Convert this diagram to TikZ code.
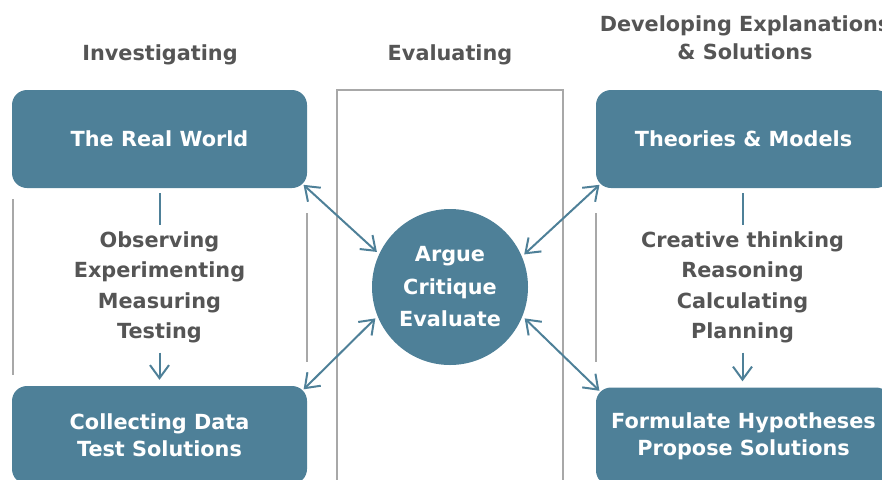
\documentclass[tikz,border=0pt]{standalone}
\usepackage{fontspec}
\setmainfont{DejaVu Sans}
\usetikzlibrary{arrows.meta,positioning}
\definecolor{boxblue}{RGB}{78,128,152}
\definecolor{textgray}{RGB}{85,85,85}
\definecolor{rulegray}{RGB}{168,168,168}

\begin{document}
\begin{tikzpicture}[x=1pt,y=-1pt,
    box/.style={rectangle,rounded corners=15pt,fill=boxblue,text=white,
      minimum width=295pt,minimum height=98pt,inner sep=0pt,align=center,
      font=\fontsize{20.8}{27}\selectfont\bfseries},
    hub/.style={circle,fill=boxblue,text=white,minimum size=156pt,inner sep=0pt,
      align=center,font=\fontsize{20.8}{32.5}\selectfont\bfseries},
    head/.style={text=textgray,inner sep=0pt,align=center,
      font=\fontsize{20.8}{28}\selectfont\bfseries},
    steps/.style={text=textgray,inner sep=0pt,align=center,
      font=\fontsize{20.8}{30.5}\selectfont\bfseries},
    flow/.style={boxblue,line width=2pt},
    barb/.style={flow,arrows={-Straight Barb[length=13pt,width=19pt]}},
    dbl/.style={flow,arrows={Straight Barb[length=13pt,width=19pt]-Straight Barb[length=13pt,width=19pt]}}]
    \clip (0,0) rectangle (882,479);

    % headings
    \node[head] (hinv) at (160,54.5) {Investigating};
    \node[head] (heval) at (450,54.5) {Evaluating};
    \node[head] (hdev) at (745,38) {Developing Explanations\\\& Solutions};

    % evaluating band and side rules
    \draw[rulegray,line width=1.5pt] (337,90) rectangle (563,495);
    \draw[rulegray,line width=1.5pt] (13,199) -- (13,375);
    \draw[rulegray,line width=1.5pt] (307,213) -- (307,362);
    \draw[rulegray,line width=1.5pt] (596,213) -- (596,362);

    \node[box] (world) at (159.5,139) {The Real World};
    \node[box] (collect) at (159.5,435) {Collecting Data\\Test Solutions};
    \node[box] (theory) at (743.5,139) {Theories \& Models};
    \node[box] (formulate) at (743.5,436.5) {Formulate Hypotheses\\Propose Solutions};
    \node[hub] (argue) at (450,287) {Argue\\Critique\\Evaluate};

    \node[steps] (observe) at (159.5,287.5) {Observing\\Experimenting\\Measuring\\Testing};
    \node[steps] (think) at (742.5,287.5) {Creative thinking\\Reasoning\\Calculating\\Planning};

    \draw[flow,shorten <=5pt,shorten >=6.5pt] (world) -- (observe);
    \draw[barb,shorten <=9pt,shorten >=6pt] (observe) -- (collect);
    \draw[flow,shorten <=5pt,shorten >=6.5pt] (theory.south -| think) -- (think);
    \draw[barb,shorten <=9pt,shorten >=6pt] (think) -- (formulate.north -| think);

    \draw[dbl,shorten <=-5pt,shorten >=3pt] (world.south east) -- (argue.155);
    \draw[dbl,shorten <=-5pt,shorten >=3pt] (collect.north east) -- (argue.202);
    \draw[dbl,shorten <=-5pt,shorten >=3pt] (theory.south west) -- (argue.23);
    \draw[dbl,shorten <=-5pt,shorten >=3pt] (formulate.north west) -- (argue.-22);
\end{tikzpicture}
\end{document}
